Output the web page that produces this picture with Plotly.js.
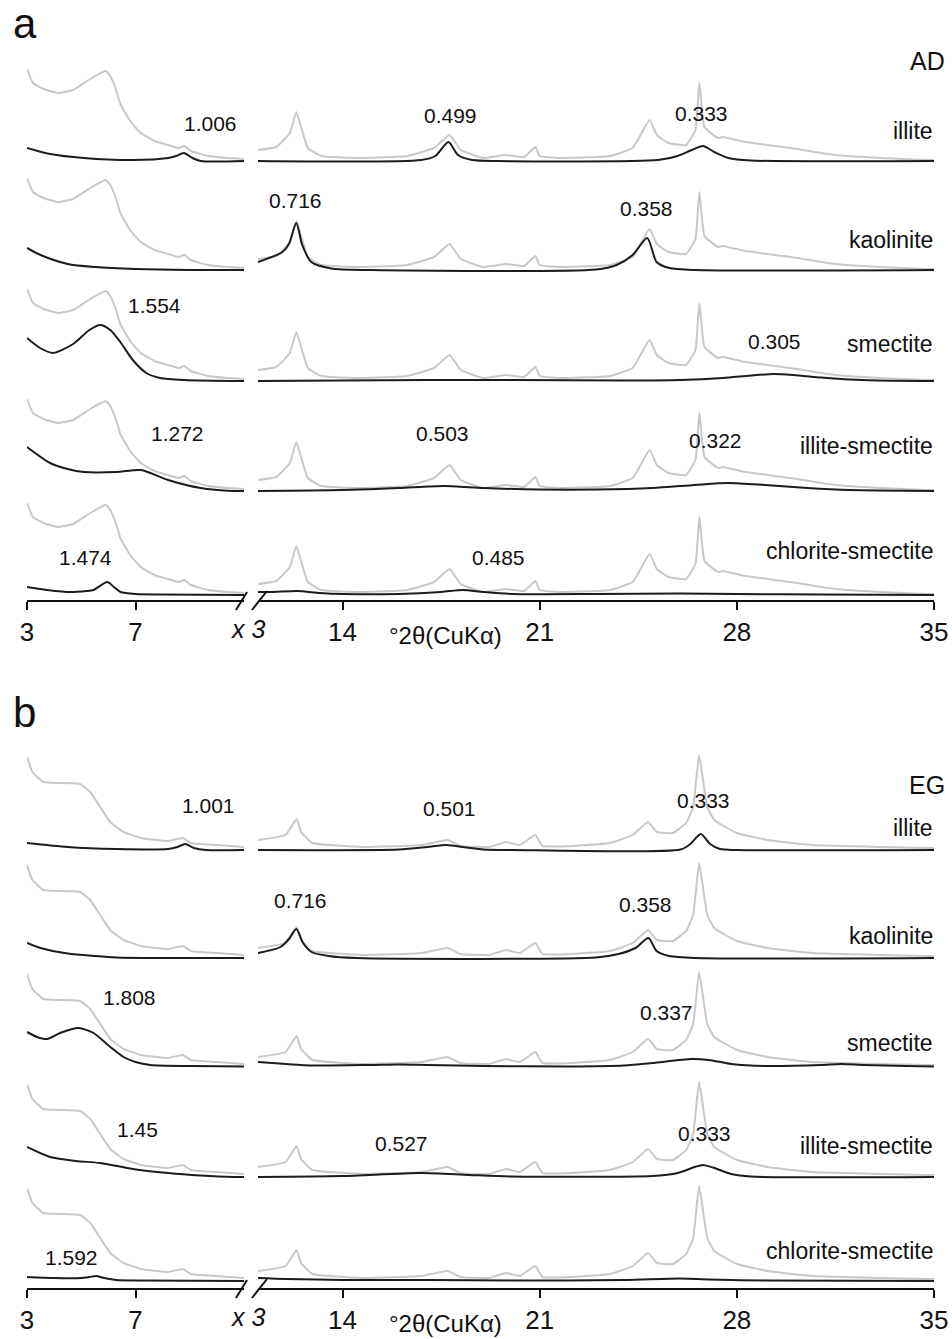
<!DOCTYPE html>
<html><head><meta charset="utf-8">
<script src="https://cdn.plot.ly/plotly-3.0.1.min.js"></script>
<style>html,body{margin:0;padding:0;background:#fff;}#chart{width:952px;height:1339px;}</style>
</head><body><div id="chart"></div>
<script>
// ---------------- DATA ----------------
// Each series: left segment (3-11 °2θ) then right segment (11-35 °2θ, shown x3); the repeated 11 marks the break.
const rowLabels = ['illite', 'kaolinite', 'smectite', 'illite-smectite', 'chlorite-smectite'];
const treatmentLabels = ['AD', 'EG'];
const panelLetters = ['a', 'b'];
const leftTicks = [3, 7];
const rightTicks = [14, 21, 28, 35];
const breakLabel = 'x 3';
const axisTitleText = '°2θ(CuKα)';

// measured pattern (grey), air-dried
const adGrayTheta = [3.0,3.22,3.6,4.15,4.7,5.33,5.9,6.07,6.26,6.44,6.8,7.19,7.7,8.2,8.6,8.8,9.04,9.67,10.4,11.0,
  11.0,11.65,12.13,12.36,12.53,12.77,13.25,14.7,16.3,17.25,17.8,18.2,19.0,19.8,20.45,20.85,21.0,21.9,23.5,24.3,24.9,25.16,25.57,26.2,26.53,26.67,26.85,27.33,27.5,28.3,29.9,31.5,33.1,34.7,35.0];
const adGrayInt = [92,78,72,68,71,82,90,85,73,57,40,28,20,16,13,15,10,5,3,2,
  11,14,28,49,34,13,5,3,5,13,26,11,3,6,4,14,5,3,5,13,41,26,18,16,31,78,34,23,24,19,13,6,3,1,1];
// measured pattern (grey), ethylene glycol
const egGrayTheta = [3.0,3.2,3.6,4.2,4.96,5.33,5.7,6.07,6.56,7.2,8.2,8.74,9.04,10.0,11.0,
  11.0,11.98,12.37,12.53,12.93,14.7,16.8,17.73,18.2,19.2,19.8,20.3,20.85,21.1,23.5,24.3,24.85,25.16,25.73,26.2,26.45,26.66,26.95,27.2,28.0,29.1,30.7,33.1,34.7,35.0];
const egGrayInt = [93,78,68,67,66,58,43,28,18,12,9,12,7,5,3,
  10,15,31,18,7,3,5,10,4,3,8,5,15,4,7,15,28,18,17,27,43,95,43,30,17,10,5,3,2,2];

// component curves (black), AD
const adIlliteTheta = [3,3.85,5.1,6.9,8.2,8.5,8.78,9.1,9.4,11, 11,16.8,17.3,17.76,18.1,18.6,19.5,25.2,25.9,26.4,26.8,27.2,27.7,28.5,35];
const adIlliteInt   = [13,7,3,1,3,5,8,3,0,0, 0,1,5,19,6,1,0,1,5,11,15,9,3,0.5,0];
const adKaoliniteTheta = [3,3.5,4.5,5.5,7,9,11, 11,11.87,12.1,12.36,12.57,12.89,13.6,15,23,23.73,24.3,24.82,25.15,25.6,26.5,35];
const adKaoliniteInt   = [22,15,6,3,1,0,0, 8,18,26,47,25,8,1.5,0,0.5,5,15,32,8,2,0,0];
const adSmectiteTheta = [3,3.48,3.97,4.7,5.3,5.7,6.07,6.44,6.9,7.4,7.9,8.8,11, 11,14,17,20,24,26,27.5,28.5,29.3,30,31,32,33,35];
const adSmectiteInt   = [43,33,28,37,51,56,51,39,21,8,3,1,0, 0,0.5,1,1,0.5,1,3,5.5,7,6,3.5,1.5,0.5,0];
const adIllSmeTheta = [3,3.85,4.5,5.1,6.3,7.2,8.2,9.4,10.6,11, 11,14,16,17.6,19,21,23,25,26.5,27.7,29,30.5,32,35];
const adIllSmeInt   = [44,28,22,19,19,21,11,3,0,0, 0,1,3,5,3,1.5,1.5,3,6,8,6,3,1,0];
const adChlSmeTheta = [3,3.5,4.5,5.2,5.45,5.96,6.2,6.45,7,8,11, 11,11.5,12.4,13.2,14,16,17.5,18.27,19,20,23,26,28,31,35];
const adChlSmeInt   = [8,6,3,4,5,13,8,3,1,0.5,0, 3,3,4,2,1,1,3,5,3,1,1,1.5,1,0.5,0];

// component curves (black), EG
const egIlliteTheta = [3,4.5,6.3,8.2,8.55,8.83,9.15,9.6,11, 11,16,17,17.69,18.4,19,20,26,26.35,26.72,27.05,27.4,28,35];
const egIlliteInt   = [7,3,1,1,3,6,2,0,0, 0,0.5,3,5,2.5,0.5,0,0.5,6,16,6,1,0,0];
const egKaoliniteTheta = [3,3.5,4.5,5.5,6.3,8,11, 11,11.8,12.1,12.36,12.6,12.9,13.5,14.5,23,23.8,24.4,24.86,25.15,25.6,26.5,35];
const egKaoliniteInt   = [15,10,4.5,2,0.5,0,0, 5,11,19,29,15,6,2,0,0.5,4,10,20,7,2,0,0];
const egSmectiteTheta = [3,3.37,3.74,4.22,4.9,5.45,6.07,6.56,7.0,7.55,9,11, 11,12,13,15,16,17,19,22,24,25,26.4,27,27.8,29,31,31.7,32.5,34,35];
const egSmectiteInt   = [35,30,28,34,39,34,20,10,5,2,1,0.5, 5,3,1.5,2,2.5,2,1,0.5,1.5,4,8,7,3,1,2,3,2,1,0.5];
const egIllSmeTheta = [3,3.85,4.8,5.7,6.9,8.2,9.4,10.6,11, 11,14,16.8,18.5,20,25,25.9,26.5,26.8,27.2,27.8,28.5,35];
const egIllSmeInt   = [30,20,16,14,8,4,1.5,0,0, 0,1,4,2,0.5,1,4,10,12,9,3,0.5,0];
const egChlSmeTheta = [3,4,5,5.3,5.55,5.85,6.3,7,11, 11,12,14,17,20,24,26,27,29,35];
const egChlSmeInt   = [4,3,3,4,5,3,1,0.5,0, 3,2,1,1,0.5,1,2.5,1.5,0.5,0];

// d-spacing labels (nm)
const adPeakLabels = [['1.006','0.499','0.333'], ['0.716','0.358'], ['1.554','0.305'], ['1.272','0.503','0.322'], ['1.474','0.485']];
const egPeakLabels = [['1.001','0.501','0.333'], ['0.716','0.358'], ['1.808','0.337'], ['1.45','0.527','0.333'], ['1.592']];

// ---------------- LAYOUT / STYLE ----------------
const W = 952, H = 1339;
const FONT = 'Liberation Sans, Arial, Helvetica, sans-serif';
const GRAY = '#c8c8c8', BLACK = '#1c1c1c';
const PX = x => x / W, PY = y => 1 - y / H;

const panels = [
  { gTheta: adGrayTheta, gInt: adGrayInt,
    comps: [[adIlliteTheta, adIlliteInt],[adKaoliniteTheta, adKaoliniteInt],[adSmectiteTheta, adSmectiteInt],[adIllSmeTheta, adIllSmeInt],[adChlSmeTheta, adChlSmeInt]],
    offsets: [439, 330, 219, 109, 5], axisY: 600, xl: 'x', xr: 'x2', y: 'y',
    peaks: adPeakLabels,
    peakPos: [[[210,123],[450,115],[701,113]], [[295,200],[646,209]], [[154,305],[774,342]], [[177,434],[442,434],[715,440]], [[85,557],[498,557]]],
    rowY: [131, 240, 344, 446, 551], letterY: 24, treatY: 61 },
  { gTheta: egGrayTheta, gInt: egGrayInt,
    comps: [[egIlliteTheta, egIlliteInt],[egKaoliniteTheta, egKaoliniteInt],[egSmectiteTheta, egSmectiteInt],[egIllSmeTheta, egIllSmeInt],[egChlSmeTheta, egChlSmeInt]],
    offsets: [438, 330, 221, 111, 7], axisY: 1288, xl: 'x3', xr: 'x4', y: 'y2',
    peaks: egPeakLabels,
    peakPos: [[[208,806],[449,808],[703,800]], [[300,900],[645,905]], [[129,998],[666,1012]], [[137,1129],[401,1143],[704,1133]], [[71,1257]]],
    rowY: [828, 936, 1043, 1146, 1251], letterY: 713, treatY: 785 }
];

function split(theta, vals) {
  const k = theta.findIndex((t, i) => i > 0 && t <= theta[i - 1]);
  return [[theta.slice(0, k), vals.slice(0, k)], [theta.slice(k), vals.slice(k)]];
}

const traces = [];
const annotations = [];
const shapes = [];
panels.forEach((p, pi) => {
  p.comps.forEach((c, ri) => {
    const off = p.offsets[ri];
    const segsG = split(p.gTheta, p.gInt);
    const segsB = split(c[0], c[1]);
    [segsG, segsB].forEach((segs, si) => {
      segs.forEach((s, side) => {
        traces.push({
          x: s[0], y: s[1].map(v => v + off), type: 'scatter', mode: 'lines',
          xaxis: side === 0 ? p.xl : p.xr, yaxis: p.y, hoverinfo: 'skip', showlegend: false,
          line: si === 0
            ? { color: GRAY, width: 2, shape: 'spline', smoothing: 0.35 }
            : { color: BLACK, width: 2, shape: 'spline', smoothing: 0.7 }
        });
      });
    });
    annotations.push({ xref: 'paper', yref: 'paper', x: PX(935), y: PY(p.rowY[ri]), xanchor: 'right', yanchor: 'middle',
      text: rowLabels[ri], showarrow: false, font: { family: FONT, size: 23, color: '#111' } });
    p.peaks[ri].forEach((t, k) => {
      const pos = p.peakPos[ri][k];
      annotations.push({ xref: 'paper', yref: 'paper', x: PX(pos[0]), y: PY(pos[1]), xanchor: 'center', yanchor: 'middle',
        text: t, showarrow: false, font: { family: FONT, size: 21, color: '#111' } });
    });
  });
  annotations.push({ xref: 'paper', yref: 'paper', x: PX(11), y: PY(p.letterY), xanchor: 'left', yanchor: 'middle',
    text: panelLetters[pi], showarrow: false, font: { family: FONT, size: 42, color: '#111' } });
  annotations.push({ xref: 'paper', yref: 'paper', x: PX(947), y: PY(p.treatY), xanchor: 'right', yanchor: 'middle',
    text: treatmentLabels[pi], showarrow: false, font: { family: FONT, size: 25, color: '#111' } });
  annotations.push({ xref: 'paper', yref: 'paper', x: PX(445), y: PY(p.axisY + 35), xanchor: 'center', yanchor: 'middle',
    text: axisTitleText, showarrow: false, font: { family: FONT, size: 24, color: '#111' } });
  annotations.push({ xref: 'paper', yref: 'paper', x: PX(248), y: PY(p.axisY + 29), xanchor: 'center', yanchor: 'middle',
    text: '<i>' + breakLabel + '</i>', showarrow: false, font: { family: FONT, size: 25, color: '#111' } });
  const a = p.axisY;
  [[236, a + 10, 247, a - 8], [252, a + 10, 267, a - 9]].forEach(l => {
    shapes.push({ type: 'line', xref: 'paper', yref: 'paper', x0: PX(l[0]), y0: PY(l[1]), x1: PX(l[2]), y1: PY(l[3]),
      line: { color: '#111', width: 2 } });
  });
});

function xAxis(domain, range, ticks, anchor) {
  return { domain: domain, range: range, anchor: anchor, tickmode: 'array', tickvals: ticks, ticktext: ticks.map(String),
    showline: true, linecolor: '#111', linewidth: 2, ticks: 'outside', ticklen: 8, tickwidth: 2, tickcolor: '#111',
    tickfont: { family: FONT, size: 26, color: '#111' }, showgrid: false, zeroline: false, fixedrange: true };
}
const leftDom = [PX(27), PX(244)], rightDom = [PX(258), PX(934)];
const layout = {
  width: W, height: H, margin: { l: 0, r: 0, t: 0, b: 0 }, paper_bgcolor: '#fff', plot_bgcolor: 'rgba(0,0,0,0)',
  showlegend: false,
  xaxis: xAxis(leftDom, [3, 11], leftTicks, 'y'),
  xaxis2: xAxis(rightDom, [11, 35], rightTicks, 'y'),
  xaxis3: xAxis(leftDom, [3, 11], leftTicks, 'y2'),
  xaxis4: xAxis(rightDom, [11, 35], rightTicks, 'y2'),
  yaxis: { domain: [PY(600), PY(50)], range: [0, 550], visible: false, fixedrange: true },
  yaxis2: { domain: [PY(1288), PY(738)], range: [0, 550], visible: false, fixedrange: true },
  annotations: annotations, shapes: shapes
};
Plotly.newPlot('chart', traces, layout, { displayModeBar: false, staticPlot: true });
</script></body></html>
